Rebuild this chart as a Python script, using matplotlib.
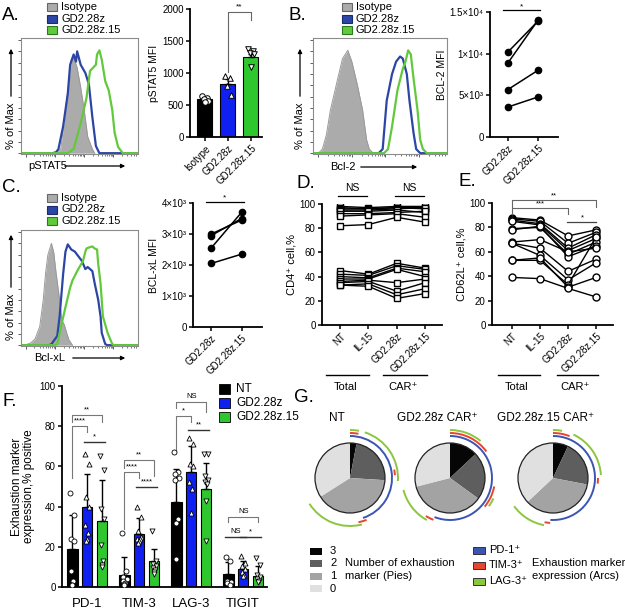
import numpy as np
import matplotlib.pyplot as plt
from matplotlib.patches import Wedge, Arc, Rectangle, Circle

plt.rcParams['font.family'] = ['Liberation Sans', 'DejaVu Sans']
plt.rcParams['font.size'] = 7

# ---------------- data ----------------
# flow histograms: x in % of axis width, y in % of max
a_iso_x = [28, 31, 34, 38, 41, 43, 45, 46, 48, 51, 54, 57, 61, 63]
a_iso_y = [0, 1, 4, 42, 70, 91, 94, 90, 83, 64, 42, 16, 4, 0]
a_cd28_x = [27, 30, 32, 36, 40, 42, 45, 47, 48, 51, 55, 58, 61, 64, 67]
a_cd28_y = [0, 1, 4, 26, 58, 86, 96, 89, 99, 86, 78, 67, 35, 7, 0]
a_il15_x = [40, 45, 51, 56, 59, 64, 65, 67, 69, 72, 75, 78, 80, 83, 87]
a_il15_y = [0, 4, 29, 54, 80, 86, 96, 100, 91, 70, 61, 42, 20, 6, 0]

b_iso_x = [4, 7, 10, 13, 18, 22, 26, 29, 33, 37, 40, 42, 45]
b_iso_y = [0, 4, 18, 42, 70, 92, 100, 89, 67, 42, 13, 4, 0]
b_cd28_x = [49, 52, 55, 59, 62, 65, 67, 70, 72, 75, 77, 80]
b_cd28_y = [0, 4, 51, 77, 89, 94, 92, 77, 51, 20, 4, 0]
b_il15_x = [53, 56, 59, 63, 67, 69, 71, 73, 75, 78, 80, 82, 85]
b_il15_y = [0, 4, 26, 61, 82, 89, 100, 96, 73, 42, 13, 4, 0]

c_iso_x = [3, 8, 12, 16, 19, 21, 23, 26, 28, 30, 33, 35, 37, 39, 41, 44]
c_iso_y = [0, 2, 6, 18, 44, 70, 88, 99, 90, 70, 44, 24, 20, 12, 5, 0]
c_cd28_x = [24, 26, 31, 33, 36, 38, 40, 43, 46, 50, 52, 55, 57, 61, 63, 66, 68, 69, 72, 74]
c_cd28_y = [0, 1, 9, 28, 69, 91, 98, 93, 91, 85, 82, 74, 76, 72, 60, 44, 28, 12, 1, 0]
c_il15_x = [29, 31, 35, 38, 42, 44, 48, 53, 55, 56, 58, 61, 63, 65, 66, 68, 69, 70, 74, 78, 80]
c_il15_y = [0, 1, 22, 37, 56, 63, 72, 82, 91, 94, 95, 96, 94, 93, 79, 60, 44, 28, 12, 1, 0]

hist_labels = ["Isotype", "GD2.28z", "GD2.28z.15"]

# A: pSTAT5 MFI
a_groups = ["Isotype", "GD2.28z", "GD2.28z.15"]
a_mean = [590, 830, 1250]
a_err = [25, 70, 45]
a_pts = [[640, 615, 595, 570, 550], [950, 920, 790, 650], [1380, 1350, 1320, 1290, 1100]]

# B / C: paired MFI
pair_labels = ["GD2.28z", "GD2.28z.15"]
b_cd28 = [10200, 8900, 5700, 3600]
b_il15 = [13900, 14000, 8000, 4800]
c_cd28 = [3000, 2950, 2550, 2050]
c_il15 = [3450, 3500, 3700, 2350]

# D / E: donors x conditions
de_cats = ["NT", "IL-15", "GD2.28z", "GD2.28z.15"]
d_high = [[98, 97, 98, 98], [97, 96, 97, 97], [96, 96, 97, 96], [95, 95, 96, 97],
          [94, 94, 95, 93], [92, 92, 93, 94], [90, 91, 92, 89], [82, 83, 89, 85]]
d_low = [[45, 42, 51, 47], [42, 41, 49, 46], [40, 39, 47, 44], [38, 38, 46, 40],
         [36, 37, 35, 38], [35, 36, 28, 35], [33, 34, 25, 30], [33, 32, 22, 26]]
e_rows = [[88, 86, 73, 78], [87, 85, 67, 76], [86, 83, 63, 74], [85, 82, 61, 71],
          [79, 80, 58, 68], [78, 81, 56, 65], [68, 70, 60, 63], [67, 63, 44, 54],
          [67, 57, 37, 51], [53, 53, 33, 72], [53, 55, 31, 39], [39, 38, 30, 23]]

# F: exhaustion markers
f_markers = ["PD-1", "TIM-3", "LAG-3", "TIGIT"]
f_groups = ["NT", "GD2.28z", "GD2.28z.15"]
f_mean = [[19, 6, 42.5, 6.5], [40, 26.5, 57, 9], [33, 13, 49, 5.5]]
f_sd = [[17, 9, 16, 6], [16, 8, 13, 4], [20, 6, 12.5, 5]]
f_pts = [
    [[47, 36, 24, 23, 8, 3, 1, 1], [27, 8, 5, 4, 3, 2, 1.5, 1],
     [67, 57, 56, 54, 53, 34, 32, 14], [15, 13, 3, 2.5, 2, 1]],
    [[66, 61, 45, 40, 31, 27, 24, 23], [40, 35, 28, 25, 24, 24, 23, 22],
     [74, 71, 61, 60, 52, 49, 37], [15.5, 12, 10.5, 9, 7.5, 6, 5.5]],
    [[65, 58, 39, 34, 21, 13, 11, 10], [28, 13, 11.5, 10.5, 9.5, 8.5, 7.5, 6.5],
     [66, 66, 55, 53, 52, 51, 43, 23], [14.5, 11, 6, 5, 4, 3, 2.5]],
]
# (marker, group i, group j, y, left leg end, right leg end, label)
f_sig = [(0, 0, 1, 80, 54, 77, "****"), (0, 0, 2, 85.5, 82, 82, "**"), (0, 1, 2, 72, None, None, "*"),
         (1, 0, 2, 63, 59, 55, "**"), (1, 0, 1, 57, 29, 54, "****"), (1, 1, 2, 50, None, None, "****"),
         (2, 0, 2, 92, 89, 87, "NS"), (2, 0, 1, 85, 67, 82, "*"), (2, 1, 2, 78, None, None, "**"),
         (3, 0, 2, 35, 32.5, 32.5, "NS"), (3, 0, 1, 25, None, None, "NS"), (3, 1, 2, 25, None, None, "*")]

# G: SPICE pies (% cells with 3,2,1,0 markers) and marker arcs (% ranges)
g_titles = ["NT", "GD2.28z CAR⁺", "GD2.28z.15 CAR⁺"]
g_pie = [[3, 23, 40, 34], [13, 22, 36, 29], [7, 21, 35, 37]]
g_pd1 = [[(0, 45)], [(0, 56)], [(0, 51)]]
g_tim3 = [[(0, 3), (22, 24), (44, 47)], [(0, 15), (28, 36), (56, 59)], [(0, 6), (25, 27), (51, 53)]]
g_lag3 = [[(0, 3), (5, 26), (46, 66)], [(0, 11), (32, 35), (58, 71)], [(0, 3), (7, 24), (53, 65)]]

BLUE_H, GREEN_H, GREY_H = '#2d46a6', '#62c93c', '#ababab'
BLUE_B, GREEN_B = '#1020f0', '#2ec82e'
PIE_COL = ['#060606', '#5e5e5e', '#a3a3a3', '#e0e0e0']
ARC_COL = {'pd1': '#3b55b3', 'tim3': '#e8452c', 'lag3': '#8cc63f'}

W, H = 625, 614
fig = plt.figure(figsize=(W / 100, H / 100), dpi=100)


def add_ax(x0, y0, x1, y1):
    return fig.add_axes([x0 / W, 1 - y1 / H, (x1 - x0) / W, (y1 - y0) / H])


def dot_style(ax):
    for s in ['top', 'right']:
        ax.spines[s].set_visible(False)
    for s in ['left', 'bottom']:
        ax.spines[s].set_linewidth(1.3)
    ax.tick_params(width=1.1, length=3, labelsize=7, pad=1.5)


def histo(box, iso, cd28, il15):
    ax = add_ax(*box)
    ax.fill_between(iso[0], iso[1], color=GREY_H, lw=0)
    ax.plot(iso[0], iso[1], color='#999999', lw=0.7)
    ax.plot([0] + cd28[0] + [100], [0] + cd28[1] + [0], color=BLUE_H, lw=1.6)
    ax.plot([0] + il15[0] + [100], [0] + il15[1] + [0], color=GREEN_H, lw=1.6)
    ax.set_xlim(0, 100)
    ax.set_ylim(-0.8, 112)
    for s in ax.spines.values():
        s.set_color('#8c8c8c')
        s.set_linewidth(0.8)
    ax.set_yticks(np.arange(0, 111, 11))
    ax.set_yticklabels([])
    maj = [4, 29, 54, 79]
    ax.set_xticks(maj)
    ax.set_xticklabels([])
    ax.set_xticks([m + 25 * np.log10(k) for m in maj for k in range(2, 10) if m + 25 * np.log10(k) < 100],
                  minor=True)
    ax.tick_params(length=2.5, width=0.6, color='#444')
    ax.tick_params(which='minor', length=1.5, width=0.5, color='#444')
    return ax


histo((21, 38, 138, 154), (a_iso_x, a_iso_y), (a_cd28_x, a_cd28_y), (a_il15_x, a_il15_y))
histo((313, 38, 447, 154), (b_iso_x, b_iso_y), (b_cd28_x, b_cd28_y), (b_il15_x, b_il15_y))
histo((21, 230, 138, 346), (c_iso_x, c_iso_y), (c_cd28_x, c_cd28_y), (c_il15_x, c_il15_y))

# ---- A bars
ax = add_ax(190, 9, 262, 137)
dot_style(ax)
xs = np.arange(3)
ax.bar(xs, a_mean, width=0.65, color=['black', BLUE_B, GREEN_B], edgecolor='black', lw=0.8)
ax.errorbar(xs, a_mean, yerr=[[0, 0, 0], a_err], fmt='none', ecolor='black', elinewidth=1, capsize=2.5)
a_jit = [-0.15, 0.1, -0.05, 0.15, 0.0]
for i, pts in enumerate(a_pts):
    ax.scatter(i + np.array(a_jit[:len(pts)]), pts, marker=['o', '^', 'v'][i], s=16,
               fc='white', ec='black', lw=0.7, zorder=3)
ax.set_xlim(-0.65, 2.48)
ax.set_ylim(0, 2000)
ax.set_yticks([0, 500, 1000, 1500, 2000])
ax.set_xticks(xs)
ax.set_xticklabels(a_groups, rotation=45, ha='right', rotation_mode='anchor')
ax.set_ylabel('pSTAT5 MFI', fontsize=7.5, labelpad=2)
ax.plot([1, 1, 2, 2], [1010, 1960, 1960, 1830], color='#666', lw=0.8, clip_on=False)
ax.text(1.5, 1975, '**', ha='center', va='bottom', fontsize=6)


def paired(box, left, right, ylim, ticks, ticklabels, ylabel, sig_y):
    ax = add_ax(*box)
    dot_style(ax)
    for l, r in zip(left, right):
        ax.plot([0, 1], [l, r], '-o', color='black', ms=4.5, lw=1.1)
    ax.set_xlim(-0.6, 1.67)
    ax.set_ylim(0, ylim)
    ax.set_yticks(ticks)
    ax.set_yticklabels(ticklabels)
    ax.set_xticks([0, 1])
    ax.set_xticklabels(pair_labels, rotation=45, ha='right', rotation_mode='anchor')
    ax.set_ylabel(ylabel, fontsize=7.5, labelpad=2)
    ax.plot([-0.17, 1.07], [sig_y, sig_y], color='black', lw=0.9, clip_on=False)
    ax.text(0.45, sig_y, '*', ha='center', va='bottom', fontsize=6)


paired((490, 12, 558, 137), b_cd28, b_il15, 15000, [0, 5000, 10000, 15000],
       ['0', '5×10³', '1×10⁴', '1.5×10⁴'], 'BCL-2 MFI', 15200)
paired((193, 203, 262, 327), c_cd28, c_il15, 4000, [0, 1000, 2000, 3000, 4000],
       ['0', '1×10³', '2×10³', '3×10³', '4×10³'], 'BCL-xL MFI', 4040)


def lines_panel(box, rows, marker, ms, ylabel, xl):
    ax = add_ax(*box)
    dot_style(ax)
    for r in rows:
        ax.plot(range(4), r, '-', marker=marker, color='black', ms=ms, mfc='white', mew=1, lw=1)
    ax.set_xlim(*xl)
    ax.set_ylim(0, 100)
    ax.set_yticks(range(0, 101, 20))
    ax.set_xticks(range(4))
    ax.set_xticklabels(de_cats, rotation=45, ha='right', rotation_mode='anchor')
    ax.set_ylabel(ylabel, fontsize=8, labelpad=2)
    return ax


ax = lines_panel((322, 204, 442, 325), d_high + d_low, 's', 4.5, 'CD4⁺ cell,%', (-0.64, 3.6))
for i in (0, 2):
    ax.plot([i - 0.07, i + 0.95], [107, 107], color='black', lw=0.9, clip_on=False)
    ax.text(i + 0.44, 109, 'NS', ha='center', va='bottom', fontsize=7.5)

ax = lines_panel((492, 203, 613, 325), e_rows, 'o', 5, 'CD62L⁺ cell,%', (-0.71, 3.6))
ax.plot([0, 0, 3, 3], [97, 102.5, 102.5, 97], color='#666', lw=0.8, clip_on=False)
ax.text(1.5, 103, '**', ha='center', va='bottom', fontsize=5.5)
ax.plot([0, 0, 2, 2], [91, 95.8, 95.8, 91], color='#666', lw=0.8, clip_on=False)
ax.text(1.0, 96.3, '***', ha='center', va='bottom', fontsize=5.5)
ax.plot([1.95, 3.0], [84.3, 84.3], color='#444', lw=0.9, clip_on=False)
ax.text(2.5, 85, '*', ha='center', va='bottom', fontsize=5.5)

# ---- F bars
ax = add_ax(62, 386, 267, 587)
dot_style(ax)
off = [-0.28, 0.0, 0.29]
fcols = ['black', BLUE_B, GREEN_B]
fmk = ['o', '^', 'v']
f_jit = [-0.04, 0.03, -0.02, 0.04, -0.03, 0.02, 0.0, -0.01]
for k in range(3):
    xk = np.arange(4) + off[k]
    ax.bar(xk, f_mean[k], width=0.2, color=fcols[k], edgecolor='black', lw=0.8, zorder=2)
    ax.errorbar(xk, f_mean[k], yerr=[np.zeros(4), f_sd[k]], fmt='none', ecolor='black',
                elinewidth=1, capsize=2.5, capthick=1, zorder=3)
    for g in range(4):
        pts = f_pts[k][g]
        ax.scatter(xk[g] + np.array(f_jit[:len(pts)]), pts, marker=fmk[k], s=13,
                   fc='white', ec='black', lw=0.6, zorder=4)
for g, i, j, y, yl, yr, lab in f_sig:
    x1, x2 = g + off[i], g + off[j]
    if yl is None:
        ax.plot([x1 - 0.06, x2 + 0.06], [y, y], color='#333', lw=1)
    else:
        ax.plot([x1, x1, x2, x2], [yl, y, y, yr], color='#777', lw=0.8)
    ax.text((x1 + x2) / 2, y + 0.8, lab, ha='center', va='bottom', fontsize=5.5)
ax.set_xlim(-0.48, 3.46)
ax.set_ylim(0, 100)
ax.set_yticks(range(0, 101, 20))
ax.set_xticks(range(4))
ax.set_xticklabels(f_markers, fontsize=9.5)
ax.tick_params(axis='x', length=0, pad=8)
ax.set_ylabel('Exhaustion marker\nexpression,% positive', fontsize=8.5, labelpad=3, linespacing=1.1)

# ---------------- overlay (pixel coords) ----------------
ov = fig.add_axes([0, 0, 1, 1])
ov.set_xlim(0, W)
ov.set_ylim(H, 0)
ov.axis('off')

for lab, x, y in [('A.', 2, 15), ('B.', 289, 15), ('C.', 2, 188), ('D.', 296, 183),
                  ('E.', 458, 181), ('F.', 2, 401), ('G.', 294, 397)]:
    ov.text(x, y, lab, fontsize=13.5, va='center', ha='left')


def hist_legend(x, y0):
    cols = [(GREY_H, '#666'), (BLUE_H, '#1a2a70'), (GREEN_H, '#2a7a20')]
    for k, (fc, ec) in enumerate(cols):
        y = y0 + k * 11.5
        ov.add_patch(Rectangle((x, y - 4), 10, 8, fc=fc, ec=ec, lw=0.8))
        ov.text(x + 14, y, hist_labels[k], fontsize=8, va='center', ha='left')


hist_legend(47, 7)
hist_legend(342, 7)
hist_legend(47, 198)


def arrow_label(text, x, y, x0, x1, vertical=False):
    if vertical:
        ov.text(x, y, text, rotation=90, fontsize=8, ha='center', va='center')
        ov.annotate('', xy=(x, x1), xytext=(x, x0),
                    arrowprops=dict(arrowstyle='-|>', lw=0.9, color='black', mutation_scale=6))
    else:
        ov.text(x, y, text, fontsize=8, ha='left', va='center')
        ov.annotate('', xy=(x1, y), xytext=(x0, y),
                    arrowprops=dict(arrowstyle='-|>', lw=0.9, color='black', mutation_scale=6))


arrow_label('% of Max', 11, 126, 99, 46, vertical=True)
arrow_label('% of Max', 300, 126, 99, 46, vertical=True)
arrow_label('% of Max', 11, 317, 290, 232, vertical=True)
arrow_label('pSTAT5', 28, 166, 62, 128)
arrow_label('Bcl-2', 330, 167, 358, 420)
arrow_label('Bcl-xL', 34, 358, 70, 128)

for x0, x1, lab in [(326, 369, 'Total'), (383, 427, 'CAR⁺'), (498, 540, 'Total'), (557, 598, 'CAR⁺')]:
    ov.plot([x0, x1], [375, 375], color='black', lw=1)
    ov.text((x0 + x1) / 2 - 2, 387, lab, fontsize=8, ha='center', va='center')

# F legend
for k, (lab, c) in enumerate(zip(f_groups, fcols)):
    y = 389 + k * 14
    ov.add_patch(Rectangle((219, y - 5), 11, 10, fc=c, ec='black', lw=0.6))
    ov.text(236, y, lab, fontsize=8.5, va='center', ha='left')

# G pies
g_cx = [350, 450, 553]
g_cy, g_r = 478, 35
title_x = [337, 437, 546]
for p in range(3):
    cx = g_cx[p]
    ov.text(title_x[p], 418, g_titles[p], fontsize=8.5, ha='center', va='center')
    start = 0.0
    for k, frac in enumerate(g_pie[p]):
        ang = frac * 3.6
        ov.add_patch(Wedge((cx, g_cy), g_r, start - 90, start + ang - 90, fc=PIE_COL[k], ec='none'))
        start += ang
    ov.add_patch(Circle((cx, g_cy), g_r, fill=False, ec='#222', lw=0.9))
    for key, arcs, rad in [('pd1', g_pd1, 42), ('tim3', g_tim3, 45), ('lag3', g_lag3, 48)]:
        for a0, a1 in arcs[p]:
            ov.add_patch(Arc((cx, g_cy), 2 * rad, 2 * rad, theta1=a0 * 3.6 - 90, theta2=a1 * 3.6 - 90,
                             color=ARC_COL[key], lw=1.4))

# G legends
for k, lab in enumerate(['3', '2', '1', '0']):
    y = 551 + k * 12.5
    ov.add_patch(Rectangle((310, y - 3.5), 12, 7, fc=PIE_COL[k], ec='none'))
    ov.text(330, y, lab, fontsize=8, va='center', ha='left')
ov.text(345, 563, 'Number of exhaustion', fontsize=8, va='center', ha='left')
ov.text(345, 576, 'marker (Pies)', fontsize=8, va='center', ha='left')
for k, (key, lab) in enumerate([('pd1', 'PD-1⁺'), ('tim3', 'TIM-3⁺'), ('lag3', 'LAG-3⁺')]):
    y = 550 + k * 15.5
    ov.add_patch(Rectangle((473, y - 3.5), 12, 7, fc=ARC_COL[key], ec='#333', lw=0.7))
    ov.text(489, y, lab, fontsize=8, va='center', ha='left')
ov.text(532, 563, 'Exhaustion marker', fontsize=8, va='center', ha='left')
ov.text(532, 576, 'expression (Arcs)', fontsize=8, va='center', ha='left')

fig.savefig('out.png', dpi=100)
